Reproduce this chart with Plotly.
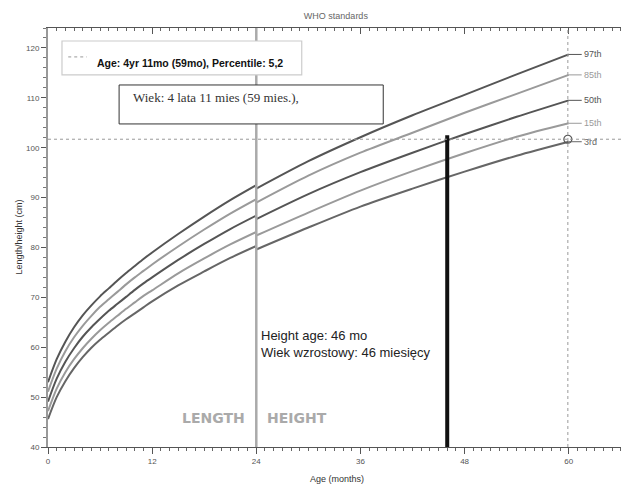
import plotly.graph_objects as go

# WHO length/height-for-age percentile curves
length_ages = [0, 1, 2, 3, 4, 5, 6, 7, 8, 9, 10, 11, 12, 15, 18, 21, 24]
height_ages = [24, 30, 36, 42, 48, 54, 60]

p3_length = [45.6, 50.0, 53.2, 55.8, 58.0, 59.9, 61.5, 62.9, 64.3, 65.6, 66.8, 68.0, 69.2, 72.4, 75.2, 77.9, 80.3]
p15_length = [47.2, 51.7, 55.0, 57.6, 59.8, 61.7, 63.4, 64.9, 66.3, 67.7, 69.0, 70.3, 71.4, 74.8, 77.8, 80.6, 83.1]
p50_length = [49.1, 53.7, 57.1, 59.8, 62.1, 64.0, 65.7, 67.3, 68.7, 70.1, 71.5, 72.8, 74.0, 77.5, 80.7, 83.7, 86.4]
p85_length = [51.1, 55.7, 59.2, 62.0, 64.3, 66.3, 68.1, 69.6, 71.1, 72.6, 74.0, 75.3, 76.6, 80.2, 83.6, 86.8, 89.7]
p97_length = [53.0, 57.6, 61.1, 64.0, 66.4, 68.4, 70.2, 71.8, 73.4, 74.9, 76.3, 77.7, 79.0, 82.7, 86.2, 89.5, 92.5]

p3_height = [79.6, 84.0, 88.2, 91.8, 95.2, 98.4, 101.2]
p15_height = [82.4, 87.0, 91.4, 95.3, 98.9, 102.2, 104.9]
p50_height = [85.7, 90.7, 95.1, 99.0, 102.7, 106.2, 109.5]
p85_height = [89.0, 94.4, 99.0, 103.0, 107.0, 110.8, 114.6]
p97_height = [91.8, 97.3, 102.1, 106.5, 110.6, 114.7, 118.7]

percentile_names = ["97th", "85th", "50th", "15th", "3rd"]
length_values = [p97_length, p85_length, p50_length, p15_length, p3_length]
height_values = [p97_height, p85_height, p50_height, p15_height, p3_height]
percentile_colors = ["#555555", "#9a9a9a", "#555555", "#9a9a9a", "#666666"]

child_age = 59.9          # months (4 yr 11 mo)
child_height = 101.7      # cm
height_age = 46           # months
height_age_top = 102.5    # cm
length_height_switch = 24 # months

x_ticks = [0, 12, 24, 36, 48, 60]
y_ticks = [40, 50, 60, 70, 80, 90, 100, 110, 120]

legend_text = "<b>Age: 4yr 11mo (59mo), Percentile: 5,2</b>"
wiek_text = "Wiek: 4 lata 11 mies (59 mies.),"
height_age_text = "Height age: 46 mo<br>Wiek wzrostowy: 46 miesięcy"

X_RANGE = [0, 66.6]
Y_RANGE = [40, 124]

fig = go.Figure()

# Curves: length segment then height segment
for lv, hv, col in zip(length_values, height_values, percentile_colors):
    for xs, ys in ((length_ages, lv), (height_ages, hv)):
        fig.add_trace(go.Scatter(x=xs, y=ys, mode="lines",
                                 line=dict(color=col, width=2, shape="spline", smoothing=0.8),
                                 showlegend=False, hoverinfo="skip"))

# Child's reference lines
fig.add_hline(y=child_height, line=dict(color="#999999", width=1, dash="dot"))
fig.add_vline(x=child_age, line=dict(color="#999999", width=1, dash="dot"))
fig.add_vline(x=length_height_switch, line=dict(color="#aaaaaa", width=2.5))

# Height-age bar
fig.add_trace(go.Scatter(x=[height_age, height_age], y=[Y_RANGE[0], height_age_top], mode="lines",
                         line=dict(color="#111111", width=4), showlegend=False, hoverinfo="skip"))

# Child marker
fig.add_trace(go.Scatter(x=[child_age], y=[child_height], mode="markers",
                         marker=dict(symbol="circle-open", size=8, color="#555555", line=dict(width=1.2)),
                         showlegend=False))

# Invisible trace for mirrored axes
fig.add_trace(go.Scatter(x=[None], y=[None], xaxis="x2", yaxis="y2", showlegend=False))

# Percentile labels with leader lines
for name, hv, col in zip(percentile_names, height_values, percentile_colors):
    fig.add_annotation(x=height_ages[-1], y=hv[-1], text=name, showarrow=True, arrowhead=0, arrowwidth=1,
                       arrowcolor=col, ax=13, ay=0, xanchor="left", standoff=0,
                       font=dict(family="Liberation Sans", size=9, color=col))

# Legend-like box
fig.add_shape(type="rect", xref="paper", yref="paper", x0=0.0242, x1=0.439, y0=0.888, y1=0.969,
              line=dict(color="#cccccc", width=1.2), fillcolor="white")
fig.add_shape(type="line", xref="paper", yref="paper", x0=0.035, x1=0.067, y0=0.931, y1=0.931,
              line=dict(color="#999999", width=1, dash="dot"))
fig.add_annotation(xref="paper", yref="paper", x=0.081, y=0.917, text=legend_text, showarrow=False,
                   xanchor="left", yanchor="middle",
                   font=dict(family="Liberation Sans Narrow, Liberation Sans", size=10.5, color="#111111"))

# Wiek box
fig.add_shape(type="rect", xref="paper", yref="paper", x0=0.123, x1=0.58, y0=0.771, y1=0.864,
              line=dict(color="#333333", width=1), fillcolor="white")
fig.add_annotation(xref="paper", yref="paper", x=0.143, y=0.834, text=wiek_text, showarrow=False,
                   xanchor="left", yanchor="middle",
                   font=dict(family="Liberation Serif", size=13, color="#333333"))

# Height age text
fig.add_annotation(xref="paper", yref="paper", x=0.365, y=0.245, text=height_age_text, showarrow=False,
                   xanchor="left", yanchor="middle", align="left",
                   font=dict(family="Liberation Sans", size=13, color="#222222"))

# LENGTH / HEIGHT
fig.add_annotation(x=length_height_switch, y=0, yref="paper", yshift=19, text="<b>LENGTH</b>", showarrow=False,
                   xanchor="right", xshift=-9, font=dict(family="DejaVu Sans", size=14, color="#aaaaaa"))
fig.add_annotation(x=length_height_switch, y=0, yref="paper", yshift=19, text="<b>HEIGHT</b>", showarrow=False,
                   xanchor="left", xshift=9, font=dict(family="DejaVu Sans", size=14, color="#aaaaaa"))

# Axis titles
fig.add_annotation(xref="paper", yref="paper", x=0.5, y=0, yshift=-32, yanchor="middle",
                   text="Age (months)", showarrow=False,
                   font=dict(family="Liberation Sans", size=9, color="#333333"))
fig.add_annotation(xref="paper", yref="paper", x=0, y=0.5, xshift=-30, xanchor="center", yanchor="middle",
                   textangle=-90, text="Length/height (cm)", showarrow=False,
                   font=dict(family="Liberation Sans", size=9, color="#333333"))

tickfont = dict(family="Liberation Sans", size=8, color="#555555")

fig.update_layout(
    width=621, height=478,
    margin=dict(l=40, r=3, t=20, b=39, autoexpand=False),
    paper_bgcolor="white", plot_bgcolor="white",
    title=dict(text="WHO standards", x=0.528, xanchor="center", y=0.983, yanchor="middle",
               font=dict(family="Liberation Sans", size=9, color="#666666")),
    xaxis=dict(range=X_RANGE, tickvals=x_ticks, ticks="outside", ticklen=6, tickcolor="#555555",
               showgrid=False, zeroline=False, showline=True, linecolor="#555555", linewidth=1,
               tickfont=tickfont, automargin=False,
               minor=dict(dtick=1, tick0=0, ticks="outside", ticklen=3, tickcolor="#666666", showgrid=False)),
    yaxis=dict(range=Y_RANGE, tickvals=y_ticks, ticks="outside", ticklen=5, tickcolor="#555555",
               showgrid=False, zeroline=False, showline=True, linecolor="#999999", linewidth=2,
               tickfont=tickfont, automargin=False,
               minor=dict(dtick=2, tick0=40, ticks="outside", ticklen=3, tickcolor="#777777", showgrid=False)),
    xaxis2=dict(range=X_RANGE, overlaying="x", side="top", tickvals=x_ticks, ticks="inside", ticklen=6,
                tickcolor="#555555", showticklabels=False, showgrid=False, zeroline=False, showline=True,
                linecolor="#555555", linewidth=1, automargin=False,
                minor=dict(dtick=1, tick0=0, ticks="inside", ticklen=3, tickcolor="#666666", showgrid=False)),
    yaxis2=dict(range=Y_RANGE, overlaying="y", side="right", tickvals=y_ticks, ticks="inside", ticklen=5,
                tickcolor="#555555", showticklabels=False, showgrid=False, zeroline=False, showline=True,
                linecolor="#999999", linewidth=1, automargin=False),
)

fig.write_html("out.html")
